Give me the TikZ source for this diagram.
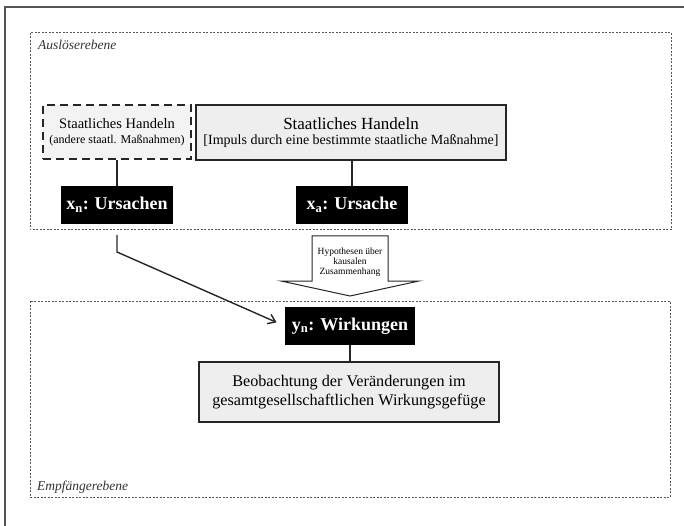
\documentclass[tikz,border=0pt]{standalone}
\usepackage{fontspec}
\setmainfont{Liberation Serif}
\usetikzlibrary{arrows.meta}
\definecolor{boxgray}{HTML}{EEEEEE}
\definecolor{framegray}{HTML}{555555}
\tikzset{
  level/.style={draw=framegray, line width=1pt, dash pattern=on 2pt off 1.5pt},
  graybox/.style={draw=black!85, line width=1.3pt, fill=boxgray, inner sep=0pt, align=center},
  dashbox/.style={draw=black!85, line width=1.6pt, dash pattern=on 8pt off 5pt, fill=boxgray!70, inner sep=0pt, align=center},
  blackbox/.style={fill=black, text=white, inner sep=0pt, minimum height=38pt, font=\fontsize{18}{20}\selectfont\bfseries},
  conn/.style={draw=black!85, line width=1.4pt},
  levellabel/.style={font=\fontsize{13.5}{15}\selectfont\itshape, text=black!80, anchor=west, inner sep=0pt}
}
\begin{document}
\begin{tikzpicture}[x=1pt,y=-1pt]
\useasboundingbox (0,0) rectangle (684,526);
% outer frame (clipped at right and bottom)
\draw[framegray, line width=1.8pt] (5,526) -- (5,7) -- (684,7);
% level boxes
\draw[level] (30,33) rectangle (671,230);
\draw[level] (30,301) rectangle (670,497);
\node[levellabel] (ausl) at (38,45) {Auslöserebene};
\node[levellabel] (empf) at (37,487) {Empfängerebene};
% top boxes
\node[dashbox, minimum width=148pt, minimum height=54pt] (lb) at (117,132)
  {{\fontsize{14.5}{17}\selectfont Staatliches Handeln}\\[3pt]{\fontsize{12}{14}\selectfont (andere staatl. Maßnahmen)}};
\node[graybox, minimum width=310pt, minimum height=55pt] (rb) at (351,132.5)
  {{\fontsize{17}{19}\selectfont Staatliches Handeln}\\[3pt]{\fontsize{14}{16}\selectfont [Impuls durch eine bestimmte staatliche Maßnahme]}};
% causes
\node[blackbox, minimum width=112pt] (xn) at (117,205) {x\textsubscript{n}: Ursachen};
\node[blackbox, minimum width=112pt] (xa) at (352,205) {x\textsubscript{a}: Ursache};
\draw[conn] (lb.south) -- (xn.north);
\draw[conn] (xa.north |- rb.south) -- (xa.north);
% effects
\node[blackbox, minimum width=130pt] (yn) at (350,326) {y\textsubscript{n}: Wirkungen};
\node[graybox, minimum width=300pt, minimum height=60pt, font=\fontsize{16.2}{19.5}\selectfont] (beob) at (349,392)
  {Beobachtung der Veränderungen im\\gesamtgesellschaftlichen Wirkungsgefüge};
\draw[conn] (yn.south) -- (yn.south |- beob.north);
% hypothesis arrow
\draw[black!85, line width=1pt, fill=white] (312,236) -- (388,236) -- (388,281) -- (419,281) -- (350,296) -- (281,281) -- (312,281) -- cycle;
\node[align=center, inner sep=0pt, font=\fontsize{9.5}{10}\selectfont] (hyp) at (350,262)
  {Hypothesen über\\kausalen\\Zusammenhang};
% diagonal connector
\coordinate (xs) at (117,235);
\coordinate (xk) at (117,252);
\draw[conn, -{Straight Barb[length=7pt,width=10pt,line width=1.4pt]}, shorten >=9pt] (xs) -- (xk) -- (yn.west);
\end{tikzpicture}
\end{document}
